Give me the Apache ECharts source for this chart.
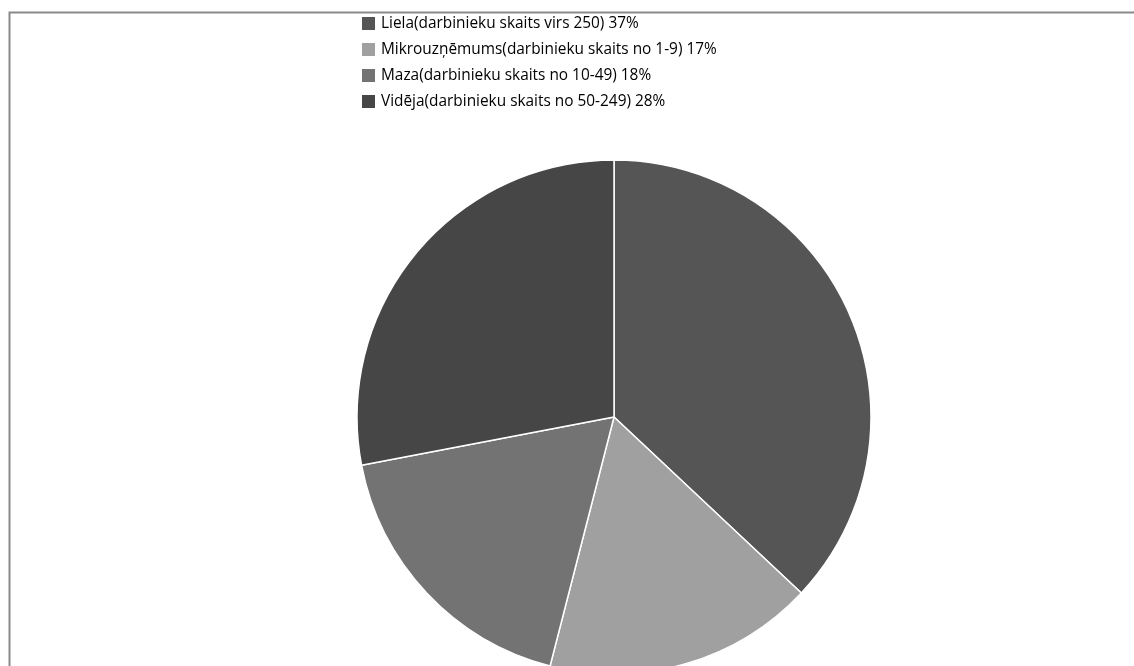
<!DOCTYPE html>
<html>
<head>
<meta charset="utf-8">
<script src="https://cdn.jsdelivr.net/npm/echarts@6/dist/echarts.min.js"></script>
<style>
  html, body { margin: 0; padding: 0; background: #fff; }
  #chart { width: 1134px; height: 666px; }
</style>
</head>
<body>
<div id="chart"></div>
<script>
const categories = [
  'Liela(darbinieku skaits virs 250)',
  'Mikrouzņēmums(darbinieku skaits no 1-9)',
  'Maza(darbinieku skaits no 10-49)',
  'Vidēja(darbinieku skaits no 50-249)'
]
const shares = [37, 17, 18, 28]
const colors = ['#555555', '#a0a0a0', '#737373', '#464646']

const chart = echarts.init(document.getElementById('chart'))

const data = categories.map((name, i) => ({
  name,
  value: shares[i],
  itemStyle: { color: colors[i] },
}))

chart.setOption({
  animation: false,
  graphic: [{
    type: 'rect',
    left: 7,
    top: 10,
    shape: { width: 1140, height: 700 },
    style: { fill: 'none', stroke: '#8a8a8a', lineWidth: 2 },
    z: -10,
  }],
  legend: {
    orient: 'vertical',
    left: 355,
    top: 10,
    icon: 'rect',
    itemWidth: 15,
    itemHeight: 15,
    itemGap: 9,
    textStyle: {
      fontFamily: 'Open Sans',
      fontSize: 15.4,
      lineHeight: 17,
      color: '#000',
    },
    formatter: (name) => {
      const i = categories.indexOf(name)
      return `${name} ${shares[i]}%`
    },
  },
  series: [{
    type: 'pie',
    center: [614, 417],
    radius: 257,
    startAngle: 90,
    clockwise: true,
    data,
    label: { show: false },
    labelLine: { show: false },
    itemStyle: { borderColor: '#fff', borderWidth: 1.5 },
    emphasis: { disabled: true },
  }],
})
</script>
</body>
</html>
